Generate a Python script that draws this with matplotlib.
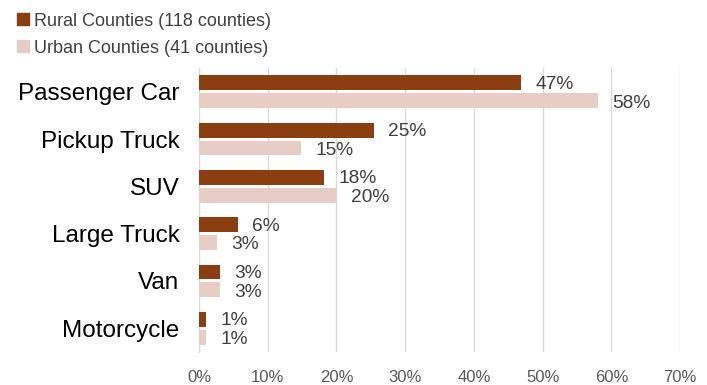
import matplotlib.pyplot as plt
import numpy as np
from matplotlib.patches import Patch
from matplotlib.ticker import FuncFormatter, MultipleLocator

# vehicle types, top to bottom
categories = ["Passenger Car", "Pickup Truck", "SUV", "Large Truck", "Van", "Motorcycle"]
rural = [46.9, 25.4, 18.2, 5.6, 3.0, 1.0]
urban = [58.0, 14.9, 20.0, 2.6, 3.0, 1.0]
rural_labels = ["47%", "25%", "18%", "6%", "3%", "1%"]
urban_labels = ["58%", "15%", "20%", "3%", "3%", "1%"]
series_names = ["Rural Counties (118 counties)", "Urban Counties (41 counties)"]

RURAL_COLOR = "#8B3E0F"
URBAN_COLOR = "#E8CDC4"
TEXT_COLOR = "#404040"

plt.rcParams["font.family"] = ["Liberation Sans", "DejaVu Sans"]

fig = plt.figure(figsize=(7.07, 3.85), dpi=100)
ax = fig.add_axes([0.2815, 0.086, 0.962 - 0.2815, 0.823 - 0.086])

y = np.arange(len(categories))
h = 0.315
off = 0.189

ax.barh(y - off, rural, height=h, color=RURAL_COLOR, zorder=3)
ax.barh(y + off, urban, height=h, color=URBAN_COLOR, zorder=3)

# value labels to the right of each bar
for i in range(len(categories)):
    ax.text(rural[i] + 2.1, y[i] - off + 0.03, rural_labels[i], fontsize=13.8,
            color=TEXT_COLOR, ha="left", va="center")
    ax.text(urban[i] + 2.1, y[i] + off + 0.05, urban_labels[i], fontsize=13.8,
            color=TEXT_COLOR, ha="left", va="center")

ax.set_ylim(len(categories) - 0.5, -0.5)
ax.set_xlim(0, 70)
ax.set_yticks(y)
ax.set_yticklabels(categories, fontsize=17.5, color="#000000")
ax.xaxis.set_major_locator(MultipleLocator(10))
ax.xaxis.set_major_formatter(FuncFormatter(lambda v, p: f"{int(v)}%"))
ax.tick_params(axis="x", labelsize=12, colors="#595959", length=0, pad=13)
ax.tick_params(axis="y", length=0, pad=14)

ax.grid(axis="x", color="#D9D9D9", linewidth=1, zorder=0)
for s in ["top", "right", "bottom"]:
    ax.spines[s].set_visible(False)
ax.spines["left"].set_color("#D9D9D9")

handles = [Patch(color=RURAL_COLOR), Patch(color=URBAN_COLOR)]
fig.legend(handles, series_names, loc="upper left", bbox_to_anchor=(0.006, 1.0),
           frameon=False, fontsize=13, labelcolor=TEXT_COLOR,
           handlelength=0.65, handleheight=0.65, handletextpad=0.3,
           labelspacing=0.55, borderaxespad=0.3)

fig.savefig("out.png", dpi=100)
